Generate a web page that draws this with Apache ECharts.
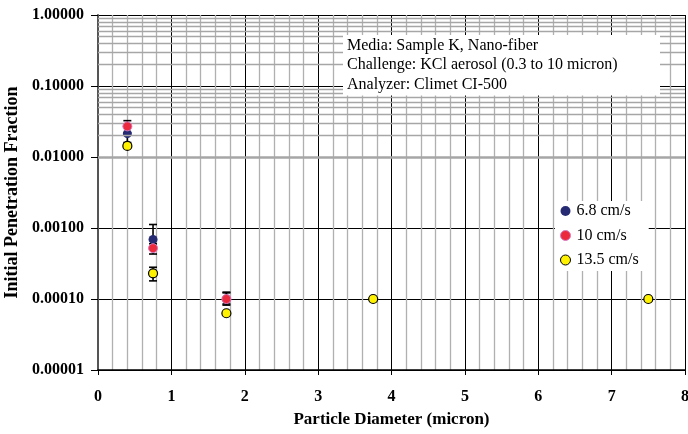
<!DOCTYPE html>
<html>
<head>
<meta charset="utf-8">
<script src="https://cdn.jsdelivr.net/npm/echarts@6/dist/echarts.min.js"></script>
<style>
html, body { margin: 0; padding: 0; background: #fff; }
#chart { width: 688px; height: 434px; }
</style>
</head>
<body>
<div id="chart"></div>
<script>
// particle diameter (micron) and penetration fraction per face velocity
var blueX = [0.4, 0.75, 1.75];
var blueY = [0.0213, 0.00069, 0.0001];
var blueLow = [0.016, 0.0005, 0.000085];
var blueHigh = [0.028, 0.00112, 0.000122];

var pinkX = [0.4, 0.75, 1.75];
var pinkY = [0.027, 0.00052, 0.0001];
var pinkLow = [0.022, 0.00043, 0.000082];
var pinkHigh = [0.0325, 0.0006, 0.000125];

var yellowX = [0.4, 0.75, 1.75, 3.75, 7.5];
var yellowY = [0.0143, 0.00023, 0.000063, 0.0001, 0.0001];
var yellowLow = [0.0143, 0.00018, 0.000063, 0.0001, 0.0001];
var yellowHigh = [0.0143, 0.00028, 0.000063, 0.0001, 0.0001];

var names = ['6.8 cm/s', '10 cm/s', '13.5 cm/s'];
var yTicks = [0.00001, 0.0001, 0.001, 0.01, 0.1, 1];

var serif = '"Liberation Serif", "Times New Roman", serif';

function pts(xs, ys) {
    return xs.map(function (x, i) { return [x, ys[i]]; });
}
function errs(xs, lo, hi) {
    return xs.map(function (x, i) { return [x, lo[i], hi[i]]; });
}

// log minor grid lines (2..9 in each decade)
var minorLines = [];
yTicks.slice(0, -1).forEach(function (d) {
    for (var k = 2; k <= 9; k++) minorLines.push({ yAxis: d * k });
});

function errorBar(params, api) {
    var x = api.value(0);
    var lo = api.coord([x, api.value(1)]);
    var hi = api.coord([x, api.value(2)]);
    if (Math.abs(lo[1] - hi[1]) < 1) return null;
    var w = 4;
    var st = { stroke: '#000', lineWidth: 1.6 };
    return {
        type: 'group',
        children: [
            { type: 'line', shape: { x1: lo[0], y1: lo[1], x2: hi[0], y2: hi[1] }, style: st },
            { type: 'line', shape: { x1: lo[0] - w, y1: lo[1], x2: lo[0] + w, y2: lo[1] }, style: st },
            { type: 'line', shape: { x1: hi[0] - w, y1: hi[1], x2: hi[0] + w, y2: hi[1] }, style: st }
        ]
    };
}

echarts.init(document.getElementById('chart')).setOption({
    animation: false,
    backgroundColor: '#fff',
    grid: { left: 98, right: 3, top: 15, bottom: 64, outerBoundsMode: 'none', containLabel: false },
    title: {
        text: 'Media: Sample K, Nano-fiber\nChallenge: KCl aerosol (0.3 to 10 micron)\nAnalyzer: Climet CI-500',
        left: 343,
        top: 35,
        padding: [1, 4, 1, 4],
        backgroundColor: '#fff',
        textStyle: {
            fontFamily: serif,
            fontSize: 16,
            fontWeight: 'normal',
            color: '#000',
            lineHeight: 19.5,
            width: 309
        }
    },
    legend: {
        data: [
            { name: names[0], itemStyle: { color: '#262a72', borderWidth: 0 } },
            { name: names[1], itemStyle: { color: '#ec2a3e', borderColor: '#d77ac0', borderWidth: 1 } },
            { name: names[2], itemStyle: { color: '#fff200', borderColor: '#000', borderWidth: 1 } }
        ],
        orient: 'vertical',
        left: 555,
        top: 201,
        padding: [2, 10, 3, 5],
        itemGap: 8.5,
        itemWidth: 10,
        itemHeight: 10,
        icon: 'circle',
        backgroundColor: '#fff',
        textStyle: { fontFamily: serif, fontSize: 16, color: '#000', padding: [0, 0, 0, 1] }
    },
    xAxis: {
        type: 'value',
        min: 0,
        max: 8,
        interval: 1,
        name: 'Particle Diameter (micron)',
        nameLocation: 'middle',
        nameGap: 41,
        nameTextStyle: { fontFamily: serif, fontSize: 17, fontWeight: 'bold', color: '#000' },
        axisLine: { lineStyle: { color: '#000', width: 1.5 } },
        axisTick: { show: true, length: 5, lineStyle: { color: '#000' } },
        axisLabel: { fontFamily: serif, fontSize: 16, fontWeight: 'bold', color: '#000', margin: 19 },
        splitLine: { show: true, lineStyle: { color: '#000', width: 1 } },
        minorTick: { show: false, splitNumber: 5 },
        minorSplitLine: { show: true, lineStyle: { color: '#b0b0b0', width: 1.3 } }
    },
    yAxis: {
        type: 'log',
        logBase: 10,
        min: 0.00001,
        max: 1,
        name: 'Initial Penetration Fraction',
        nameLocation: 'middle',
        nameGap: 73,
        nameTextStyle: { fontFamily: serif, fontSize: 18, fontWeight: 'bold', color: '#000' },
        axisLine: { show: true, lineStyle: { color: '#555', width: 2 } },
        axisTick: { show: true, length: 7, lineStyle: { color: '#000' } },
        axisLabel: {
            fontFamily: serif, fontSize: 16, fontWeight: 'bold', color: '#000', margin: 14,
            formatter: function (v) { return Number(v).toFixed(5); }
        },
        splitLine: { show: true, lineStyle: { color: '#000', width: 1 } }
    },
    series: [
        {
            name: 'grid',
            type: 'line',
            data: [],
            silent: true,
            markLine: {
                silent: true,
                symbol: 'none',
                label: { show: false },
                lineStyle: { color: '#a6a6a6', width: 1.3, type: 'solid' },
                data: minorLines
            }
        },
        { name: 'err1', type: 'custom', renderItem: errorBar, data: errs(blueX, blueLow, blueHigh), z: 3 },
        { name: 'err2', type: 'custom', renderItem: errorBar, data: errs(pinkX, pinkLow, pinkHigh), z: 3 },
        { name: 'err3', type: 'custom', renderItem: errorBar, data: errs(yellowX, yellowLow, yellowHigh), z: 3 },
        {
            name: names[0], type: 'scatter', symbol: 'circle', symbolSize: 9, z: 4,
            itemStyle: { color: '#262a72', borderWidth: 0, opacity: 1 },
            data: pts(blueX, blueY)
        },
        {
            name: names[1], type: 'scatter', symbol: 'circle', symbolSize: 9, z: 5,
            itemStyle: { color: '#ec2a3e', borderColor: '#d77ac0', borderWidth: 1, opacity: 1 },
            data: pts(pinkX, pinkY)
        },
        {
            name: names[2], type: 'scatter', symbol: 'circle', symbolSize: 9, z: 6,
            itemStyle: { color: '#fff200', borderColor: '#000', borderWidth: 1.2, opacity: 1 },
            data: pts(yellowX, yellowY)
        }
    ]
});
</script>
</body>
</html>
